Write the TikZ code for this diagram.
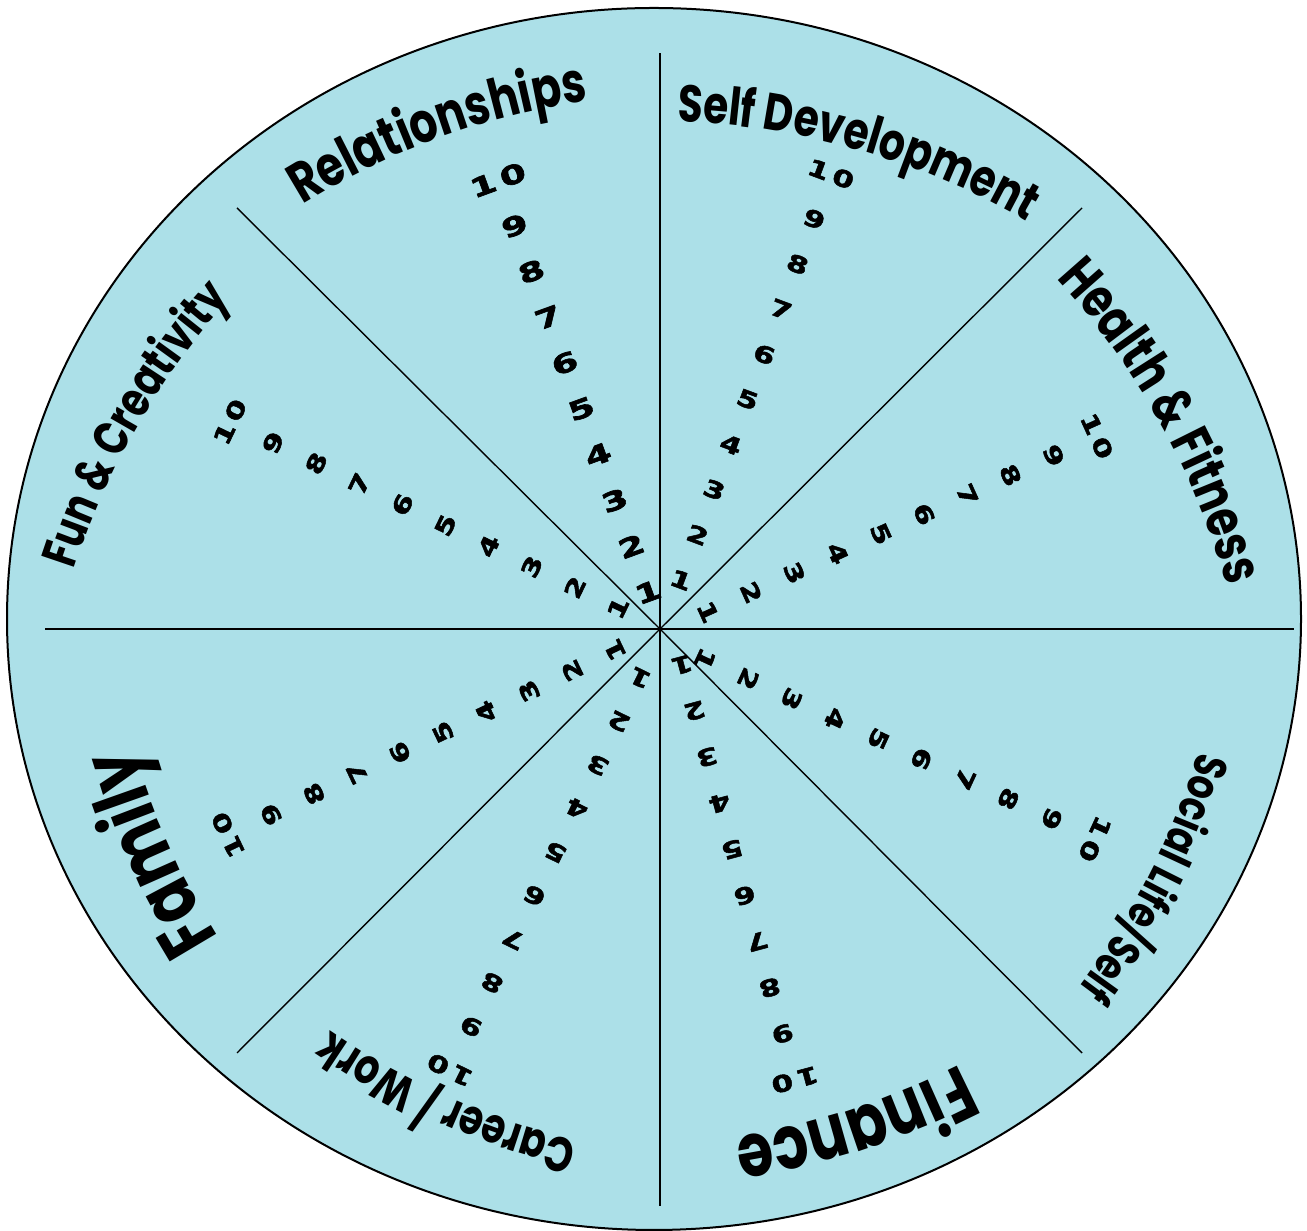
\documentclass[tikz,border=0pt]{standalone}
\usepackage{fontspec}
\usetikzlibrary{calc,decorations.text}
\newfontfamily\labfont{Poppins}[FakeStretch=0.78]
\newfontfamily\numfont{DejaVu Sans}[FakeStretch=1.35,FakeBold=2.2]
\newfontfamily\bignumfont{DejaVu Sans}[FakeStretch=1.45,FakeBold=2.5]
\definecolor{water}{RGB}{172,224,232}
\newcommand\numtxt[1]{\ifnum#1=10 1\hspace{0.2em}0\else#1\fi}
% #1,#2 = middle of the baseline, #3 = reading direction there, #4 = size, #5 = text
\newcommand\curvelabel[5]{%
  \path[decorate, decoration={text along path, text align=center,
     text={|\labfont\bfseries\fontsize{#4}{#4}\selectfont|#5}}]
     ($(#1,#2)+({#3-90}:750)+({#3+115}:750)$)
     arc[start angle={#3+115}, end angle={#3+65}, radius=750];}
\begin{document}
\begin{tikzpicture}[x=1pt,y=1pt,
  spoke/.style={line width=1.4pt, draw=black},
  rim/.style={line width=2pt, draw=black, fill=water},
  num/.style={font=\numfont\bfseries\fontsize{23}{23}\selectfont, inner sep=0pt},
  bignum/.style={font=\bignumfont\bfseries\fontsize{26}{26}\selectfont, inner sep=0pt}]
\useasboundingbox (0,0) rectangle (1307,1231);
\path[rim] (654,612) ellipse [x radius=647, y radius=611];
\coordinate (C) at (660,602);
\coordinate (eN) at (660,1178);
\coordinate (eS) at (660,25);
\coordinate (eW) at (45,602);
\coordinate (eE) at (1294,602);
\coordinate (eNW) at (237,1023);
\coordinate (eNE) at (1082,1023);
\coordinate (eSW) at (237,178);
\coordinate (eSE) at (1082,178);
\foreach \e in {eN,eS,eW,eE,eNW,eNE,eSW,eSE} \draw[spoke] (C) -- (\e);
% numbers on the spokes
\foreach \nm/\ax/\ay/\bx/\by/\rot/\sty in {
   rel/648/639/498/1051/20/bignum,
   sd/681/651/831/1057/-20.4/num,
   hf/708/619/1097/795/-65.7/num,
   sl/705/572/1095/392/-114.8/num,
   fin/682/566/795/151/-164.9/num,
   car/640/553/450/161/154/num,
   fam/615/581/228/396/115.5/num,
   fun/618/623/230/809/64.3/num}{
  \foreach \k in {1,...,10}{
    \pgfmathsetmacro\t{(\k-1)/9}
    \node[\sty, rotate=\rot] (\nm-\k) at ($(\ax,\ay)!\t!(\bx,\by)$) {\numtxt{\k}};
  }
}
% curved labels
\curvelabel{440}{1093}{20}{56}{Relationships}
\curvelabel{858}{1081}{-16}{52}{Self Development}
\curvelabel{1160}{809}{-61}{55}{Health {\&} Fitness}
\curvelabel{1149}{356}{-117}{46}{Social Life/Self}
\curvelabel{850}{121}{-162}{75}{Finance}
\curvelabel{449}{134}{156}{49}{Career / Work}
\curvelabel{169}{386}{114}{77}{Family}
\curvelabel{138}{805}{60}{49}{Fun {\&} Creativity}
\end{tikzpicture}
\end{document}
